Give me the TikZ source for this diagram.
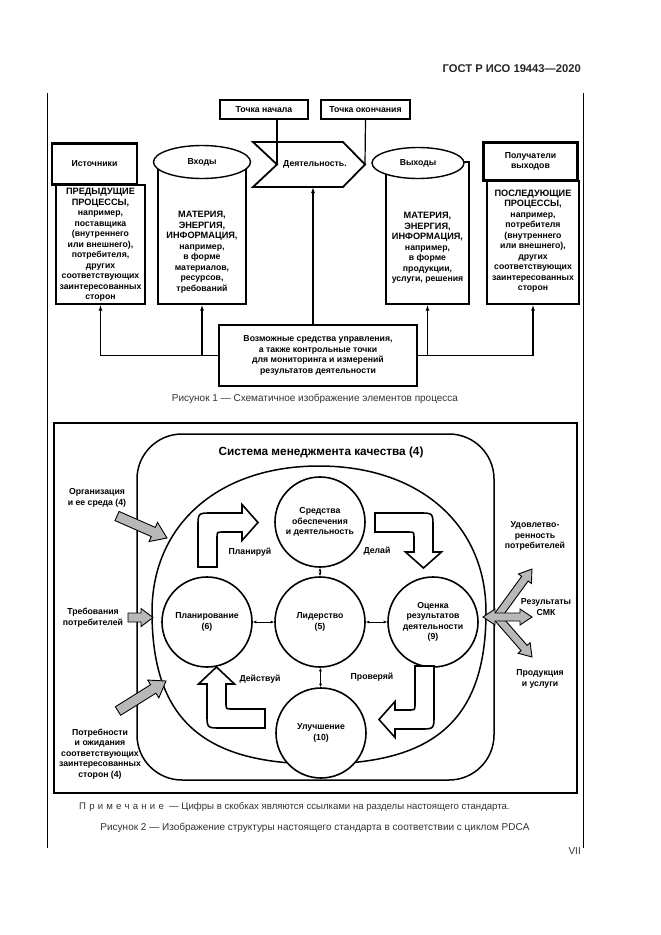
\documentclass[tikz,border=0pt]{standalone}
\usepackage{fontspec}
\setmainfont{Liberation Sans}
\usetikzlibrary{arrows.meta,calc,shapes.geometric}
\newcommand\lf{\fontsize{8.7}{10.5}\selectfont\bfseries}
\newcommand\cf{\fontsize{9.2}{10.5}\selectfont\bfseries}
\newcommand\garrow[5]{%
  \coordinate (gbase) at ($(#2)!#5!(#1)$);
  \draw[gblk]
    ($(#1)!#3!90:(#2)$) -- ($(gbase)!#3!90:(#2)$) -- ($(gbase)!#4!90:(#2)$) -- (#2)
    -- ($(gbase)!#4!-90:(#2)$) -- ($(gbase)!#3!-90:(#2)$) -- ($(#1)!#3!-90:(#2)$) -- cycle;}
\begin{document}
\begin{tikzpicture}[x=1pt,y=-1pt,
  lbl/.style={font=\lf, align=center, inner sep=0pt},
  body/.style={draw, line width=1.3pt, fill=white, inner sep=0pt},
  hdr/.style={draw, line width=2.4pt, fill=white, inner sep=0pt, font=\lf, align=center},
  smallbox/.style={draw, line width=1.1pt, fill=white, inner sep=0pt, font=\lf, minimum height=19pt},
  ell/.style={ellipse, draw, line width=1.4pt, fill=white, inner sep=0pt, font=\lf},
  arr/.style={-{Latex[length=6pt,width=4pt]}, line width=1.2pt},
  conn/.style={line width=1.2pt},
  dbl/.style={{Latex[length=3.5pt,width=3pt]}-{Latex[length=3.5pt,width=3pt]}, line width=0.8pt},
  circ/.style={circle, draw, line width=1.6pt, fill=white, minimum size=90pt, inner sep=0pt, font=\lf, align=center},
  blk/.style={draw, line width=1.6pt, fill=white, line join=miter},
  gblk/.style={draw, line width=0.9pt, fill=black!28, line join=miter},
  captext/.style={font=\fontsize{10}{12}\selectfont, text=black!80, inner sep=0pt},
  pageline/.style={line width=0.8pt}
]
\useasboundingbox (0,0) rectangle (661,935);
\fill[white] (0,0) rectangle (661,935);

% header and page lines
\node[anchor=east, font=\fontsize{11.2}{13}\selectfont\bfseries, text=black!85, inner sep=0pt] (gost) at (581,69) {ГОСТ Р ИСО 19443—2020};
\coordinate (pl1) at (47,93); \coordinate (pl2) at (47,848);
\coordinate (pr1) at (583,93); \coordinate (pr2) at (583,848);
\draw[pageline] (pl1) -- (pl2);
\draw[pageline] (pr1) -- (pr2);

% ---------------- Figure 1 ----------------
\node[smallbox, minimum width=88pt] (start) at (264,109.5) {Точка начала};
\node[smallbox, minimum width=89pt] (finish) at (365.5,109.5) {Точка окончания};

\coordinate (notch) at (277,164.5);
\coordinate (tip) at (365,164.5);
\draw[line width=1.8pt, line join=miter, fill=white] (253,142) -- (343,142) -- (tip) -- (343,187) -- (253,187) -- (notch) -- cycle;
\node[lbl] (act) at (315,164.5) {Деятельность.};
\coordinate (actbot) at (313,187);
\draw[conn] (start.south -| notch) -- (notch);
\draw[conn] (finish.south) -- (tip);

% sources
\node[body, minimum width=89pt, minimum height=119pt] (srcbody) at (100.5,244.5) {};
\node[hdr, minimum width=85pt, minimum height=41pt] (src) at (94.5,164) {Источники};
\node[lbl] (srctxt) at (100.5,245) {{\cf ПРЕДЫДУЩИЕ}\\{\cf ПРОЦЕССЫ,}\\например,\\поставщика\\(внутреннего\\или внешнего),\\потребителя,\\других\\соответствующих\\заинтересованных\\сторон};

% inputs
\node[body, minimum width=88pt, minimum height=142pt] (inbody) at (202,233) {};
\node[ell, minimum width=97pt, minimum height=33pt] (in) at (202,162) {Входы};
\node[lbl] (intxt) at (202,252) {{\cf МАТЕРИЯ,}\\{\cf ЭНЕРГИЯ,}\\{\cf ИНФОРМАЦИЯ,}\\например,\\в форме\\материалов,\\ресурсов,\\требований};

% outputs
\node[body, minimum width=83pt, minimum height=142pt] (outbody) at (427.5,233) {};
\node[ell, minimum width=92pt, minimum height=31pt] (out) at (418,163) {Выходы};
\node[lbl] (outtxt) at (427.5,248) {{\cf МАТЕРИЯ,}\\{\cf ЭНЕРГИЯ,}\\{\cf ИНФОРМАЦИЯ,}\\например,\\в форме\\продукции,\\услуги, решения};

% receivers
\node[body, minimum width=92pt, minimum height=123pt] (recvbody) at (533,242.5) {};
\node[hdr, minimum width=94pt, minimum height=38pt] (recv) at (530.5,161.5) {Получатели\\выходов};
\node[lbl] (recvtxt) at (533,241) {{\cf ПОСЛЕДУЮЩИЕ}\\{\cf ПРОЦЕССЫ,}\\например,\\потребителя\\(внутреннего\\или внешнего),\\других\\соответствующих\\заинтересованных\\сторон};

% control
\node[draw, line width=2pt, fill=white, minimum width=198pt, minimum height=61pt, inner sep=0pt, font=\lf, align=center] (ctrl) at (318,355.5)
  {Возможные средства управления,\\а также контрольные точки\\для мониторинга и измерений\\результатов деятельности};
\draw[arr] (ctrl.west) -| (srcbody.south);
\draw[arr] (ctrl.west -| inbody.south) -- (inbody.south);
\draw[arr] (ctrl.east) -| (recvbody.south);
\draw[arr] (ctrl.east -| outbody.south) -- (outbody.south);
\draw[arr] (ctrl.north -| actbot) -- (actbot);

\node[captext] (cap1) at (315,399) {Рисунок 1 — Схематичное изображение элементов процесса};

% ---------------- Figure 2 ----------------
\draw[line width=2.4pt] (54,423) rectangle (577,793);
\draw[line width=1.5pt, rounded corners=45pt] (137,434) rectangle (494,780);
\node[font=\fontsize{11.8}{13}\selectfont\bfseries, inner sep=0pt] (qms) at (321,452) {Система менеджмента качества (4)};

% big PDCA contour
\draw[line width=1.5pt] (486,612) .. controls (486,524.4) and (419.2,466) .. (319,466)
  .. controls (218.8,466) and (152,524.4) .. (152,612)
  .. controls (152,718.4) and (202.1,764) .. (319,764)
  .. controls (435.9,764) and (486,718.4) .. (486,612);

% circles
\node[circ] (res) at (320,522) {Средства\\обеспечения\\и деятельность};
\node[circ] (plan) at (207,622) {Планирование\\(6)};
\node[circ] (lead) at (320,622) {Лидерство\\(5)};
\node[circ] (eval) at (433,622) {Оценка\\результатов\\деятельности\\(9)};
\node[circ] (impr) at (321,733) {Улучшение\\(10)};
\draw[dbl] (plan) -- (lead);
\draw[dbl] (lead) -- (eval);
\draw[dbl] (res) -- (lead);
\draw[dbl] (lead) -- (impr);

% block arrows (PDCA)
\draw[blk] (198,567) -- (198,527) .. controls (198,513) .. (212,513) -- (242,513) -- (242,504.5)
  -- (258,522.5) -- (242,540.5) -- (242,532) -- (223,532) .. controls (217,532) .. (217,538) -- (217,567) -- cycle;
\draw[blk] (375,513) -- (419,513) .. controls (433,513) .. (433,527) -- (433,552) -- (441.5,552)
  -- (423.5,568) -- (405.5,552) -- (414,552) -- (414,538) .. controls (414,532) .. (408,532) -- (375,532) -- cycle;
\draw[blk] (415,666) -- (434,666) -- (434,715) .. controls (434,729) .. (420,729) -- (395,729) -- (395,737.5)
  -- (379,719.5) -- (395,701.5) -- (395,710) -- (409,710) .. controls (415,710) .. (415,704) -- cycle;
\draw[blk] (265,709) -- (265,728) -- (221,728) .. controls (207,728) .. (207,714) -- (207,684) -- (198.5,684)
  -- (216.5,667) -- (234.5,684) -- (226,684) -- (226,703) .. controls (226,709) .. (232,709) -- cycle;
\node[lbl] (lp) at (250,552) {Планируй};
\node[lbl] (ld) at (377,551) {Делай};
\node[lbl] (la) at (260,679) {Действуй};
\node[lbl] (lc) at (372,677) {Проверяй};

% external inputs
\node[lbl] (torg) at (97,498) {Организация\\и ее среда (4)};
\node[lbl] (treq) at (93,617.5) {Требования\\потребителей};
\node[lbl] (tneed) at (100,754) {Потребности\\и ожидания\\соответствующих\\заинтересованных\\сторон (4)};
\coordinate (o1) at (117,516); \coordinate (o2) at (167,538);
\coordinate (q1) at (128,617.5); \coordinate (q2) at (153,617.5);
\coordinate (n1) at (118,711); \coordinate (n2) at (166,681);
\garrow{o1}{o2}{5pt}{10.5pt}{15pt}
\garrow{q1}{q2}{4.5pt}{9pt}{12pt}
\garrow{n1}{n2}{5pt}{10.5pt}{15pt}

% external outputs
\coordinate (r0) at (497,617);
\coordinate (ru) at (532,569);
\coordinate (rd) at (532,657);
\garrow{r0}{ru}{4pt}{8pt}{12pt}
\garrow{r0}{rd}{4pt}{8pt}{12pt}
\draw[gblk] (483,617) -- (495,609) -- (495,613) -- (520,613) -- (520,609) -- (532,617) -- (520,625) -- (520,621) -- (495,621) -- (495,625) -- cycle;
\node[lbl] (tsat) at (535,536) {Удовлетво-\\ренность\\потребителей};
\node[lbl] (tqms) at (546,607) {Результаты\\СМК};
\node[lbl] (tprod) at (540,679) {Продукция\\и услуги};

% note and caption
\node[captext, anchor=west, font=\fontsize{9.6}{11}\selectfont] (note) at (79,807) {П\,\,р\,\,и\,\,м\,\,е\,\,ч\,\,а\,\,н\,\,и\,\,е \ — Цифры в скобках являются ссылками на разделы настоящего стандарта.};
\node[captext] (cap2) at (315,828) {Рисунок 2 — Изображение структуры настоящего стандарта в соответствии с циклом PDCA};
\node[captext, anchor=east] (pg) at (581,851) {VII};
\end{tikzpicture}
\end{document}
